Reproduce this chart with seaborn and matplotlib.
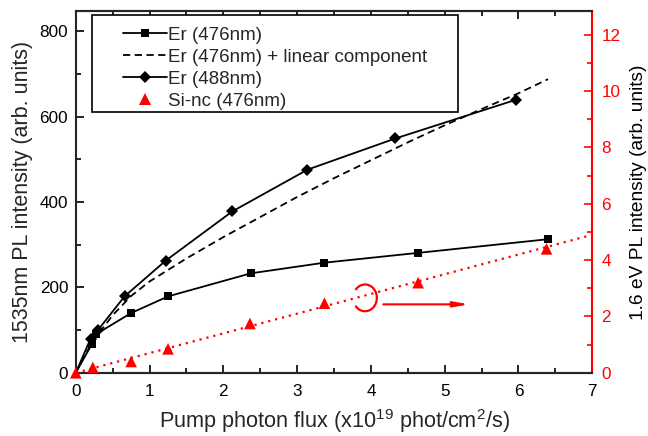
import matplotlib
matplotlib.use("Agg")
import matplotlib.pyplot as plt
import seaborn as sns
import numpy as np
import pandas as pd
from matplotlib.patches import Arc, Rectangle
from matplotlib.lines import Line2D
from matplotlib.ticker import MultipleLocator

# ---- data ----
er476_x = [0, 0.22, 0.27, 0.75, 1.25, 2.37, 3.37, 4.64, 6.4]
er476_y = [0, 68, 90, 140, 179, 233, 258, 281, 313]

lin_x = [0, 0.1, 0.25, 0.5, 0.75, 1.0, 1.5, 2.0, 2.5, 3.0, 3.5, 4.0, 4.5, 5.0, 5.5, 6.0, 6.4]
lin_y = [0, 35, 78, 135, 180, 214, 268, 318, 365, 412, 456, 498, 540, 580, 618, 655, 688]

er488_x = [0, 0.2, 0.3, 0.66, 1.22, 2.12, 3.14, 4.33, 5.97]
er488_y = [0, 80, 100, 179, 263, 378, 476, 549, 640]

sinc_x = [0, 0.23, 0.75, 1.25, 2.36, 3.37, 4.64, 6.38]
sinc_y = [0, 0.19, 0.4, 0.85, 1.75, 2.47, 3.2, 4.4]

fit_x = [0, 7]
fit_y = [0, 4.9]

x_ticks = [0, 1, 2, 3, 4, 5, 6, 7]
left_ticks = [0, 200, 400, 600, 800]
right_ticks = [0, 2, 4, 6, 8, 10, 12]

labels = ["Er (476nm)", "Er (476nm) + linear component", "Er (488nm)", "Si-nc (476nm)"]

# ---- style ----
sns.set_style("ticks")
plt.rcParams['font.family'] = ['Liberation Sans', 'DejaVu Sans']
plt.rcParams['mathtext.fontset'] = 'custom'
plt.rcParams['mathtext.rm'] = 'Liberation Sans'

fig = plt.figure(figsize=(6.48, 4.36), dpi=100)
ax = fig.add_axes([0.117, 0.145, 0.797, 0.83])
ax2 = ax.twinx()

lw = 1.3
dash = (0, (4, 2.5))
sns.lineplot(x=er476_x, y=er476_y, ax=ax, color='black', lw=lw, marker='s',
             markersize=6, markeredgewidth=0, markevery=list(range(1, len(er476_x))),
             legend=False)
sns.lineplot(x=lin_x, y=lin_y, ax=ax, color='black', lw=lw, linestyle=dash,
             legend=False)
sns.lineplot(x=er488_x, y=er488_y, ax=ax, color='black', lw=lw, marker='D',
             markersize=6.5, markeredgewidth=0, markevery=list(range(1, len(er488_x))),
             legend=False)

sns.lineplot(x=fit_x, y=fit_y, ax=ax2, color='red', lw=1.6, linestyle=(0, (1, 2.2)),
             legend=False)
sns.scatterplot(x=sinc_x, y=sinc_y, ax=ax2, color='red', marker='^', s=70,
                edgecolor='none', legend=False, zorder=5, clip_on=False)

# annotation arc and arrow on right axis
ax2.add_patch(Arc((3.92, 2.66), 0.32, 0.95, theta1=-115, theta2=115,
                  color='red', lw=1.6))
ax2.annotate('', xy=(5.37, 2.43), xytext=(4.13, 2.43),
             arrowprops=dict(arrowstyle='-|>,head_length=0.9,head_width=0.16',
                             color='red', lw=1.5))

# axes limits and ticks
ax.set_xlim(0, 7)
ax.set_ylim(0, 848)
ax2.set_ylim(0, 12.85)
ax.set_xticks(x_ticks)
ax.set_yticks(left_ticks)
ax2.set_yticks(right_ticks)
ax.xaxis.set_minor_locator(MultipleLocator(0.5))
ax.yaxis.set_minor_locator(MultipleLocator(100))
ax2.yaxis.set_minor_locator(MultipleLocator(1))

ax.tick_params(axis='both', which='both', direction='in', top=True, right=False,
               labelsize=12.3, width=1.2, colors='black')
ax.tick_params(axis='x', which='both', pad=8)
ax.tick_params(axis='y', which='both', pad=5.5)
ax.tick_params(which='major', length=6)
ax.tick_params(which='minor', length=3.5)
ax2.tick_params(axis='y', which='both', direction='in', colors='red',
                labelsize=12.3, width=1.2, pad=6.5)
ax2.tick_params(which='major', length=6)
ax2.tick_params(which='minor', length=3.5)

for s in ['left', 'bottom', 'top']:
    ax.spines[s].set_linewidth(1.5)
    ax2.spines[s].set_linewidth(1.5)
ax.spines['right'].set_visible(False)
ax2.spines['right'].set_color('red')
ax2.spines['right'].set_linewidth(1.5)
ax2.spines['left'].set_visible(False)

ax.set_xlabel(r"Pump photon flux (x10$^{19}$ phot/cm$^{2}$/s)", fontsize=15.6, labelpad=6)
ax.set_ylabel("1535nm PL intensity (arb. units)", fontsize=15.5, labelpad=5)
ax2.set_ylabel("1.6 eV PL intensity (arb. units)", fontsize=13.8, labelpad=7, color='black')

# legend (frame drawn as a separate rectangle for exact padding)
handles = [
    Line2D([], [], color='black', lw=lw, marker='s', markersize=6, markeredgewidth=0),
    Line2D([], [], color='black', lw=lw, linestyle=dash),
    Line2D([], [], color='black', lw=lw, marker='D', markersize=6.5, markeredgewidth=0),
    Line2D([], [], color='red', lw=0, marker='^', markersize=8, markeredgewidth=0),
]
ax.add_patch(Rectangle((0.0316, 0.7206), 0.7405 - 0.0316, 0.9887 - 0.7206,
                       transform=ax.transAxes, facecolor='white', edgecolor='black',
                       lw=1.2, zorder=9))
leg = ax.legend(handles, labels, loc='upper left', bbox_to_anchor=(0.0916, 0.957),
                fontsize=13.5, frameon=False, handlelength=2.35, handletextpad=0.06,
                borderpad=0, labelspacing=0.26, borderaxespad=0)
leg.set_zorder(10)

fig.savefig("out.png", dpi=100)
